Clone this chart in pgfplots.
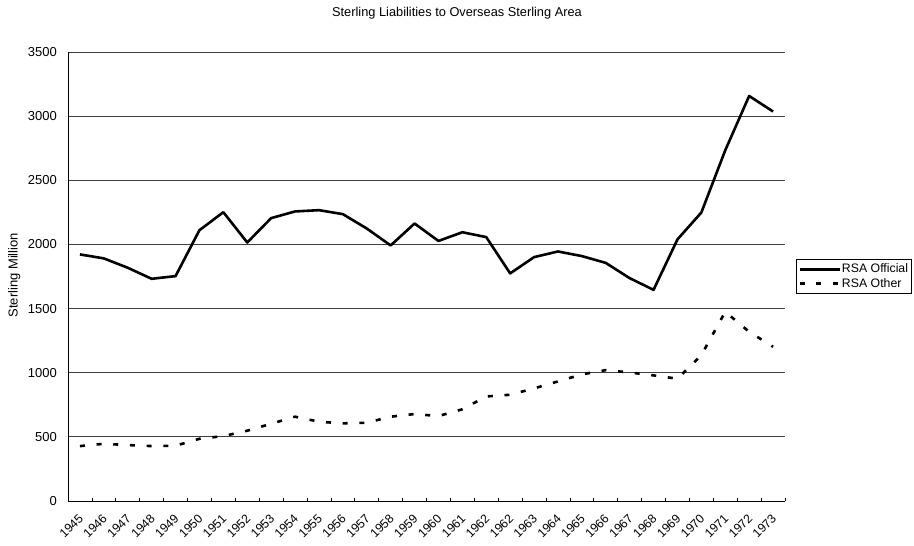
\documentclass[border=0pt]{standalone}
\usepackage{pgfplots}
\pgfplotsset{compat=1.18}
\usepackage{fontspec}
\setmainfont{Liberation Sans}
\pgfplotstableread{
x off oth
0 1922 428
1 1891 446
2 1818 436
3 1732 428
4 1753 431
5 2111 485
6 2251 506
7 2015 548
8 2205 602
9 2257 657
10 2267 618
11 2236 605
12 2124 610
13 1992 657
14 2163 678
15 2027 662
16 2095 715
17 2057 815
18 1774 828
19 1901 878
20 1945 932
21 1909 987
22 1856 1020
23 1737 1002
24 1646 979
25 2039 953
26 2249 1137
27 2734 1475
28 3157 1319
29 3036 1202
}\data
\begin{document}
\begin{tikzpicture}[x=1bp,y=1bp]
\useasboundingbox (0,0) rectangle (914,546);
\begin{axis}[
  at={(68bp,45bp)}, anchor=south west,
  scale only axis, width=717bp, height=449bp,
  xmin=-0.5, xmax=29.5, ymin=0, ymax=3500,
  axis x line*=bottom, axis y line*=left,
  axis line style={black, line width=0.9bp, -},
  xtick={0,...,29},
  xticklabels={1945,1946,1947,1948,1949,1950,1951,1952,1953,1954,1955,1956,1957,1958,1959,1960,1961,1962,1962,1963,1964,1965,1966,1967,1968,1969,1970,1971,1972,1973},
  major x tick style={draw=none},
  minor xtick={-0.5,0.5,...,29.5},
  minor x tick style={black, line width=0.8bp},
  minor tick length=3bp,
  tick align=inside,
  ytick={0,500,...,3500},
  major y tick style={draw=none},
  ymajorgrids,
  grid style={black!75, line width=0.8bp},
  /pgf/number format/.cd, 1000 sep={}, assume math mode=true,
  /pgfplots/.cd,
  yticklabel style={font=\fontsize{13bp}{15bp}\selectfont, inner sep=0pt, xshift=-11bp},
  xticklabel style={font=\fontsize{12.3bp}{14bp}\selectfont, rotate=45, anchor=north east, inner sep=0pt, yshift=-7bp, xshift=-10bp},
  ylabel={Sterling Million},
  ylabel style={font=\fontsize{13bp}{15bp}\selectfont, at={(axis description cs:-0.075,0.503)}, anchor=center},
  legend style={at={(axis description cs:1.0153,0.5)}, anchor=west, draw=black, line width=0.8bp,
    inner xsep=2bp, inner ysep=2.5bp, font=\fontsize{12.3bp}{14bp}\selectfont,
    nodes={inner sep=2bp, inner xsep=1bp}, row sep=0bp},
  legend cell align=left,
  legend image code/.code={\draw[#1] (0bp,0bp) -- (40bp,0bp);},
]
\addplot[black, line width=2.6bp, line join=round] table[x=x, y=off] {\data};
\addlegendentry{RSA Official}
\addplot[black, line width=2.6bp, dash pattern=on 5bp off 11.7bp] table[x=x, y=oth] {\data};
\addlegendentry{RSA Other}
\end{axis}
\node[font=\fontsize{12.8bp}{15bp}\selectfont, anchor=center] at (457,533) {Sterling Liabilities to Overseas Sterling Area};
\end{tikzpicture}
\end{document}
